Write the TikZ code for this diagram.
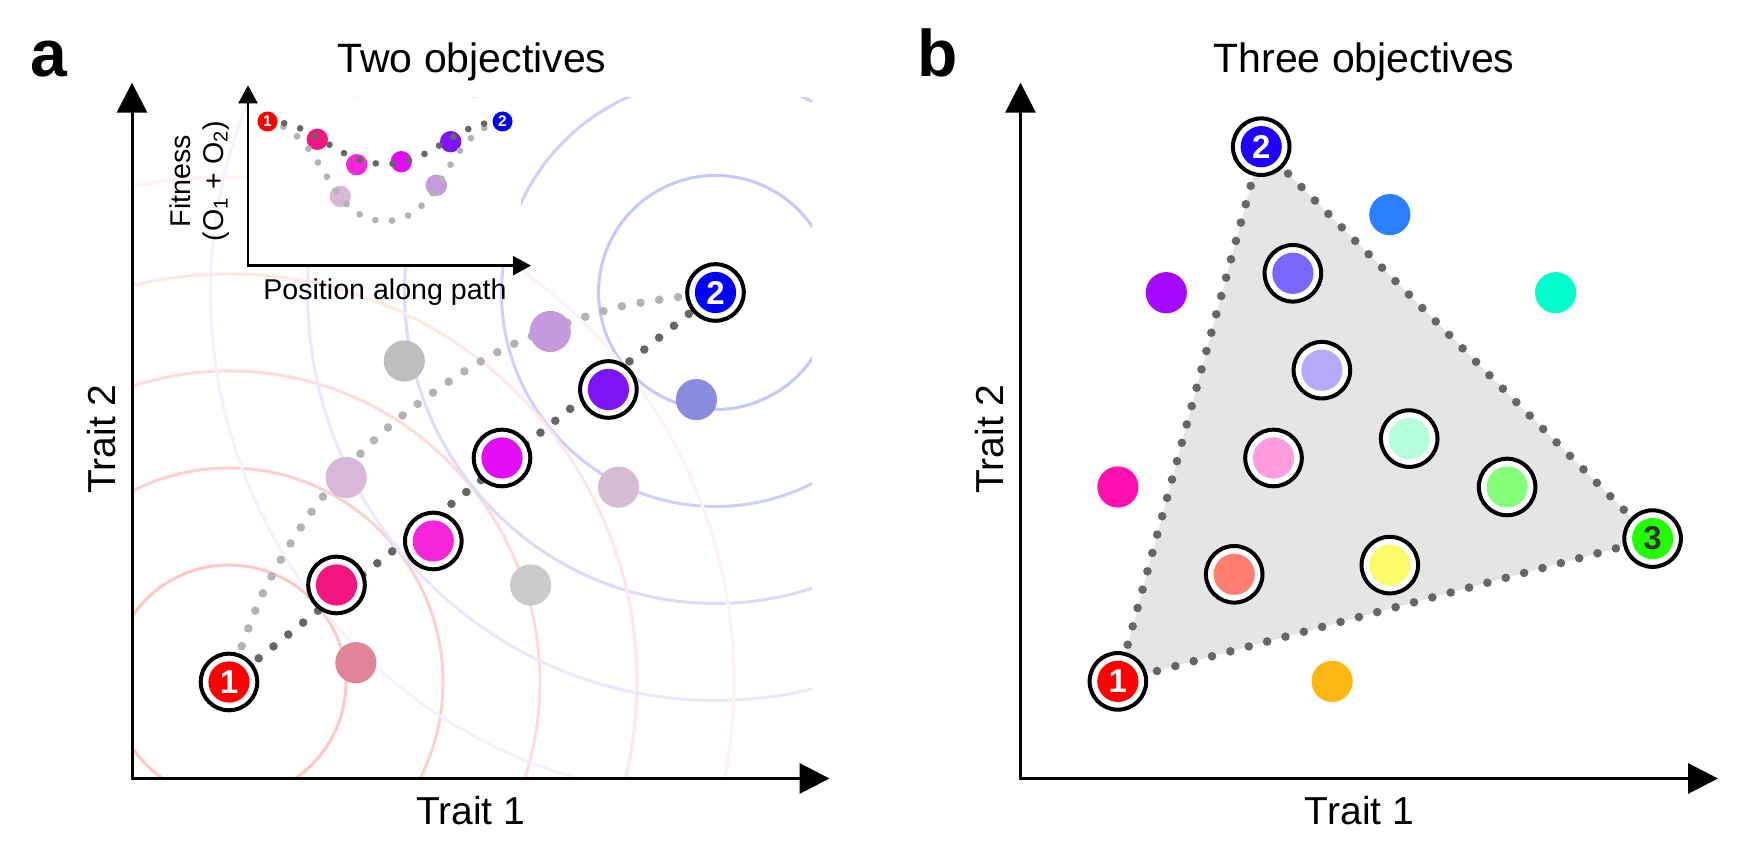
\documentclass[tikz,border=0pt]{standalone}
\usepackage{fontspec}
\setmainfont{Liberation Sans}
\usetikzlibrary{arrows.meta}
\pgfdeclarelayer{background}
\pgfsetlayers{background,main}

\newcommand\titlefont{\fontsize{20.5}{24}\selectfont}
\newcommand\traitfont{\fontsize{19.5}{23}\selectfont}
\newcommand\insetfont{\fontsize{14.3}{17}\selectfont}
\newcommand\panelfont{\bfseries\fontsize{33}{38}\selectfont}
\newcommand\ringnum{\bfseries\fontsize{16.5}{16.5}\selectfont}
\newcommand\insetnum{\bfseries\fontsize{7.7}{8}\selectfont}

\definecolor{dotdark}{HTML}{666666}
\definecolor{dotlight}{HTML}{B3B3B3}
\definecolor{trigrey}{HTML}{E5E5E5}
\definecolor{cred}{HTML}{FF0000}
\definecolor{cblue}{HTML}{0000FF}
\definecolor{cpink}{HTML}{F2167E}
\definecolor{cmagpink}{HTML}{F826DB}
\definecolor{cmagenta}{HTML}{E20DF5}
\definecolor{cviolet}{HTML}{7D15F5}
\definecolor{cthistle}{HTML}{D8B8D8}
\definecolor{clilac}{HTML}{C49ADC}
\definecolor{cgreyA}{HTML}{BEBEBE}
\definecolor{cgreyB}{HTML}{CACACA}
\definecolor{crose}{HTML}{E0849A}
\definecolor{cmauve}{HTML}{D5BED4}
\definecolor{cperiwinkle}{HTML}{8A8CDE}
\definecolor{bblue}{HTML}{2000FF}
\definecolor{bgreen}{HTML}{22FF00}
\definecolor{bslate}{HTML}{7B66FA}
\definecolor{blav}{HTML}{B8A8FA}
\definecolor{bpink}{HTML}{FF9CDE}
\definecolor{bmint}{HTML}{B3FFD9}
\definecolor{blime}{HTML}{85FF7A}
\definecolor{bsalmon}{HTML}{FF8073}
\definecolor{byellow}{HTML}{FCFC6B}
\definecolor{bsky}{HTML}{2B80FF}
\definecolor{bpurple}{HTML}{A30AFF}
\definecolor{bcyan}{HTML}{00FFCF}
\definecolor{bmagenta}{HTML}{FF10AE}
\definecolor{borange}{HTML}{FFB812}

\begin{document}
\begin{tikzpicture}[x=0.5pt, y=0.5pt,
  ringed/.style={circle, draw=black, line width=2pt, fill=white, minimum size=28.3pt, inner sep=0pt,
    text=white, font=\ringnum,
    path picture={\fill[#1] (path picture bounding box.center) circle (10.3pt);}},
  blob/.style={circle, fill=#1, minimum size=20.6pt, inner sep=0pt},
  smalldisk/.style={circle, fill=#1, minimum size=10.7pt, inner sep=0pt},
  insetend/.style={circle, fill=#1, minimum size=10pt, inner sep=0pt, text=white, font=\insetnum},
  darkpath/.style={draw=dotdark, line width=4.3pt, line cap=round, dash pattern=on 0pt off 9.5pt},
  lightpath/.style={darkpath, draw=dotlight},
  insetdark/.style={draw=dotdark, line width=3.35pt, line cap=round, dash pattern=on 0pt off 8.4pt},
  insetlight/.style={insetdark, draw=dotlight},
  traitaxis/.style={line width=1.5pt, {Triangle[length=15pt,width=15pt]}-{Triangle[length=15pt,width=15pt]}},
  insetaxis/.style={line width=1.25pt, {Triangle[length=9pt,width=9.5pt]}-{Triangle[length=9pt,width=9.5pt]}},
  circline/.style={line width=1.5pt}]
\useasboundingbox (0,0) rectangle (1745,865);

% panel a
\coordinate (oa) at (132,86.5);
\coordinate (ya) at (132,782.3);
\coordinate (xa) at (829.5,86.5);
\draw[traitaxis] (ya) -- (oa) -- (xa);

\node[font=\panelfont, anchor=base] (la) at (49,788) {a};
\node[font=\titlefont, anchor=base] (ta) at (472,792) {Two objectives};
\node[font=\traitfont, anchor=base] (xla) at (470.6,40) {Trait 1};
\node[font=\traitfont, rotate=90] (yla) at (101.4,426) {Trait 2};

\node[ringed=cred] (n1) at (229,183) {1};
\node[ringed=cblue] (n2) at (715.5,572.5) {2};
\node[ringed=cpink] (p1) at (336.5,280) {};
\node[ringed=cmagpink] (p2) at (433.3,324) {};
\node[ringed=cmagenta] (p3) at (502,407) {};
\node[ringed=cviolet] (p4) at (608.4,475.5) {};
\node[blob=cthistle] (lm) at (346.2,387.5) {};
\node[blob=clilac] (lp) at (550.3,533.5) {};
\node[blob=cgreyA] (g1) at (404.3,504) {};
\node[blob=cgreyB] (g2) at (530.6,280) {};
\node[blob=crose] (mv) at (355.9,202.3) {};
\node[blob=cmauve] (lv) at (618.5,377.8) {};
\node[blob=cperiwinkle] (bp) at (696.4,465.4) {};

\begin{pgfonlayer}{background}
\begin{scope}
\clip (132,86.5) rectangle (812,767);
\foreach \r/\s in {117/22, 214/19, 311/14, 408/9, 505/5}
{\draw[circline, red!\s] (n1.center) circle (\r);
 \draw[circline, blue!\s] (n2.center) circle (\r);}
\fill[white] (248,599.3) rectangle (521,767);
\end{scope}
\draw[darkpath] (n1.center) -- (n2.center);
\draw[lightpath] plot[smooth, tension=0.55] coordinates {(n1.center) (264,274) (315,358) (380,430.4)
  (457.7,489.3) (526,526.4) (619,558) (n2.center)};
\end{pgfonlayer}

% inset
\coordinate (oi) at (248,599.3);
\coordinate (yi) at (248,779.6);
\coordinate (xi) at (531,599.3);
\draw[insetaxis] (yi) -- (oi) -- (xi);
\node[font=\insetfont, rotate=90] (fit) at (180,684) {Fitness};
\node[font=\insetfont, rotate=90] (obj) at (216,684) {(O\textsubscript{1} + O\textsubscript{2})};
\node[font=\insetfont, anchor=base] (pos) at (385,565) {Position along path};

\node[smalldisk=cpink] (ip1) at (317.3,725.7) {};
\node[smalldisk=cmagpink] (ip2) at (356.7,700.3) {};
\node[smalldisk=cmagenta] (ip3) at (401.3,703.3) {};
\node[smalldisk=cviolet] (ip4) at (450.7,723.3) {};
\node[smalldisk=cthistle] (ilm) at (340.3,668.7) {};
\node[smalldisk=clilac] (ilp) at (436.3,679.7) {};
\coordinate (imin) at (385,701);
\coordinate (jmin) at (385,644);
\coordinate (i1c) at (267.5,743.5);
\coordinate (i2c) at (502.5,743.5);
\draw[insetlight] (i1c) to[out=-10,in=180] (jmin) to[out=0,in=190] (i2c);
\draw[insetdark] (i1c) to[out=0,in=180] (imin) to[out=0,in=180] (i2c);
\node[insetend=cred] (i1) at (i1c) {1};
\node[insetend=cblue] (i2) at (i2c) {2};

% panel b
\coordinate (ob) at (1020.5,86.5);
\coordinate (yb) at (1020.5,782.3);
\coordinate (xb) at (1718,86.5);
\draw[traitaxis] (yb) -- (ob) -- (xb);

\node[font=\panelfont, anchor=base] (lb) at (938,788) {b};
\node[font=\titlefont, anchor=base] (tb) at (1364,792) {Three objectives};
\node[font=\traitfont, anchor=base] (xlb) at (1359.5,40) {Trait 1};
\node[font=\traitfont, rotate=90] (ylb) at (989.5,426) {Trait 2};

\node[ringed=cred] (m1) at (1117.9,183.6) {1};
\node[ringed=bblue] (m2) at (1261.2,718.3) {2};
\node[ringed=bgreen, text=black!80] (m3) at (1652.6,326.4) {3};

\begin{pgfonlayer}{background}
\fill[trigrey] (m1.center) -- (m2.center) -- (m3.center) -- cycle;
\foreach \a/\b in {m1/m2, m2/m3, m3/m1}
{\draw[darkpath] (\a.center) -- (\b.center);}
\end{pgfonlayer}

\node[ringed=bslate] (r1) at (1292.9,591.7) {};
\node[ringed=blav] (r2) at (1321.9,494.8) {};
\node[ringed=bpink] (r3) at (1273.5,407) {};
\node[ringed=bmint] (r4) at (1409.2,426.4) {};
\node[ringed=blime] (r5) at (1507.1,378) {};
\node[ringed=bsalmon] (r6) at (1234.2,290.7) {};
\node[ringed=byellow] (r7) at (1389.8,299.9) {};

\node[blob=bsky] (d1) at (1389.8,650.4) {};
\node[blob=bpurple] (d2) at (1166.3,572.3) {};
\node[blob=bcyan] (d3) at (1555.6,572.3) {};
\node[blob=bmagenta] (d4) at (1117.9,378) {};
\node[blob=borange] (d5) at (1332.1,183.6) {};
\end{tikzpicture}
\end{document}
